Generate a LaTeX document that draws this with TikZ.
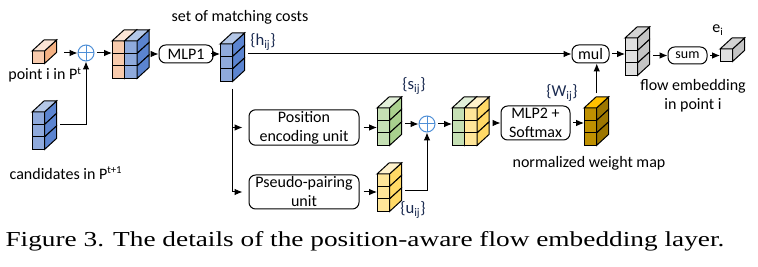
\documentclass[tikz,border=0pt]{standalone}
\usepackage{fontspec}
\usepackage{graphicx}
\setmainfont{Carlito}
\newfontfamily\capfont{Liberation Serif}
\usetikzlibrary{arrows.meta}

% face colours: F front, T top, S side
\definecolor{orF}{HTML}{F8CBAD}
\definecolor{orT}{HTML}{FBE5D6}
\definecolor{orS}{HTML}{F4B183}
\definecolor{blF}{HTML}{8FAADC}
\definecolor{blT}{HTML}{B4C7E7}
\definecolor{blS}{HTML}{5B84D0}
\definecolor{grF}{HTML}{C5E0B4}
\definecolor{grT}{HTML}{E2F0D9}
\definecolor{grS}{HTML}{A9D18E}
\definecolor{yeF}{HTML}{FFE699}
\definecolor{yeT}{HTML}{FFF2CC}
\definecolor{yeS}{HTML}{FFD966}
\definecolor{gdF}{HTML}{BF9000}
\definecolor{gdT}{HTML}{FFC000}
\definecolor{gdS}{HTML}{9C7600}
\definecolor{gyF}{HTML}{E0E0E0}
\definecolor{gyT}{HTML}{D4D4D4}
\definecolor{gyS}{HTML}{C4C4C4}
\definecolor{opblue}{HTML}{4F8FD6}
\definecolor{navy}{HTML}{1A2A50}

\newcommand{\cellw}{12.5}
\newcommand{\depx}{12}
\newcommand{\depy}{11}

% one column of cells: x, y (top left of front), rows, front, top, side
\newcommand{\cellcol}[6]{%
  \foreach \row in {1,...,#3} {
    \filldraw[fill=#4] ({#1},{#2+(\row-1)*\cellw}) rectangle ++(\cellw,\cellw);
    \filldraw[fill=#6] ({#1+\cellw},{#2+(\row-1)*\cellw}) -- ++(\depx,-\depy) -- ++(0,\cellw) -- ++(-\depx,\depy) -- cycle;
  }
  \filldraw[fill=#5] ({#1},{#2}) -- ++(\depx,-\depy) -- ++(\cellw,0) -- ++(-\depx,\depy) -- cycle;
}

% block of columns with a node over its outline: name, x, y, cols, rows, colours
\newcommand{\cellblock}[6]{%
  \foreach \col [count=\k] in {#6} {
    \cellcol{#2+(\k-1)*\cellw}{#3}{#5}{\col F}{\col T}{\col S}
  }
  \node[inner sep=0pt, anchor=south west,
        minimum width={(#4*\cellw+\depx)*0.75pt},
        minimum height={(#5*\cellw+\depy)*0.75pt}] (#1) at ({#2},{#3+#5*\cellw}) {};
}

\tikzset{
  rbox/.style={draw, rounded corners=5pt, align=center, inner sep=1pt},
  arr/.style={-{Latex[length=6pt,width=5pt]}, shorten <=2pt},
  oplus/.style={circle, draw=opblue, minimum size=12pt, inner sep=0pt,
    path picture={\draw[opblue] (path picture bounding box.north) -- (path picture bounding box.south)
      (path picture bounding box.west) -- (path picture bounding box.east);}},
  lbl/.style={text=navy, font=\fontsize{12.5}{14}\selectfont},
}

\begin{document}
\begin{tikzpicture}[x=0.75pt, y=-0.75pt, line width=0.75pt,
    font=\fontsize{12}{14.25}\selectfont]
\useasboundingbox (0,0) rectangle (758,267);

% inputs
\cellblock{pti}{32}{51}{1}{1}{or}
\cellblock{cand}{32}{112}{1}{3}{bl}
\node[oplus] (op1) at (86,53) {};
\node at (45,75) {point i in P\textsuperscript{t}};
\node at (66,173) {candidates in P\textsuperscript{t+1}};

% matching costs
\cellblock{cat1}{112}{41}{2}{3}{or,bl}
\node[rbox, minimum width=40.5pt, minimum height=13.5pt] (mlp1) at (186,54) {MLP1};
\cellblock{hij}{220}{44}{1}{3}{bl}
\node at (240,17) {set of matching costs};
\node[lbl] at (263,42) {\{h\textsubscript{ij}\}};

% position branch
\node[rbox, minimum width=82.5pt, minimum height=26.25pt] (pos) at (304,127.5) {Position\\encoding unit};
\node[rbox, minimum width=82.5pt, minimum height=25.5pt] (pair) at (304,192) {Pseudo-pairing\\unit};
\cellblock{sij}{377}{108}{1}{3}{gr}
\cellblock{uij}{377}{174}{1}{3}{ye}
\node[lbl] at (414,86) {\{s\textsubscript{ij}\}};
\node[lbl] at (413,210) {\{u\textsubscript{ij}\}};
\node[oplus] (op2) at (427,124) {};

% weights
\cellblock{cat2}{452}{108}{2}{3}{gr,ye}
\node[rbox, minimum width=51.75pt, minimum height=25.5pt] (mlp2) at (535.5,123) {MLP2 +\\Softmax};
\cellblock{wij}{584}{108}{1}{3}{gd}
\node[lbl] at (562,93) {\{W\textsubscript{ij}\}};
\node at (589,163) {normalized weight map};

% output
\node[rbox, minimum width=27.75pt, minimum height=13.5pt] (mul) at (590.5,54) {mul};
\cellblock{flow}{625}{38}{1}{3}{gy}
\node[rbox, minimum width=29.25pt, minimum height=12.75pt, font=\fontsize{10.5}{12}\selectfont] (sum) at (687.5,55.5) {sum};
\cellblock{ei}{720}{49}{1}{1}{gy}
\node at (718,30) {e\textsubscript{i}};
\node[align=center] at (693,96) {flow embedding\\in point i};

% connectors
\draw[arr, shorten <=5pt] (pti.east |- op1) -- (op1.west);
\draw[arr] (cand.east) -| (op1.south);
\draw[arr] (op1.east) -- (op1 -| cat1.west);
\draw[arr] (cat1.east |- mlp1) -- (mlp1.west);
\draw[arr] (mlp1.east) -- (mlp1 -| hij.west);
\draw[arr] (hij.east |- mul) -- (mul.west);
\draw[arr, shorten <=5.5pt, shorten >=4.5pt] (hij.south) |- (pos.west);
\draw[arr, shorten <=5.5pt, shorten >=4.5pt] (hij.south) |- (pair.west);
\draw[arr, shorten <=3pt] (pos.east) -- (pos -| sij.west);
\draw[arr, shorten <=3pt] (pair.east) -- (pair -| uij.west);
\draw[arr] (sij.east |- op2) -- (op2.west);
\draw[arr] ([yshift=-3pt]uij.east) -| (op2.south);
\draw[arr] (op2.east) -- (op2 -| cat2.west);
\draw[arr] (cat2.east |- mlp2) -- (mlp2.west);
\draw[arr] (mlp2.east) -- (mlp2 -| wij.west);
\draw[arr] (wij.north) -- (wij.north |- mul.south);
\draw[arr] (mul.east) -- (mul -| flow.west);
\draw[arr] (flow.east |- sum) -- (sum.west);
\draw[arr] (sum.east) -- (sum -| ei.west);

% caption
\node[anchor=base west, inner sep=0pt, font=\capfont\fontsize{16}{18}\selectfont] (cap) at (5,247)
  {\scalebox{1.28}[1]{Figure 3. The details of the position-aware flow embedding layer.}};
\end{tikzpicture}
\end{document}
